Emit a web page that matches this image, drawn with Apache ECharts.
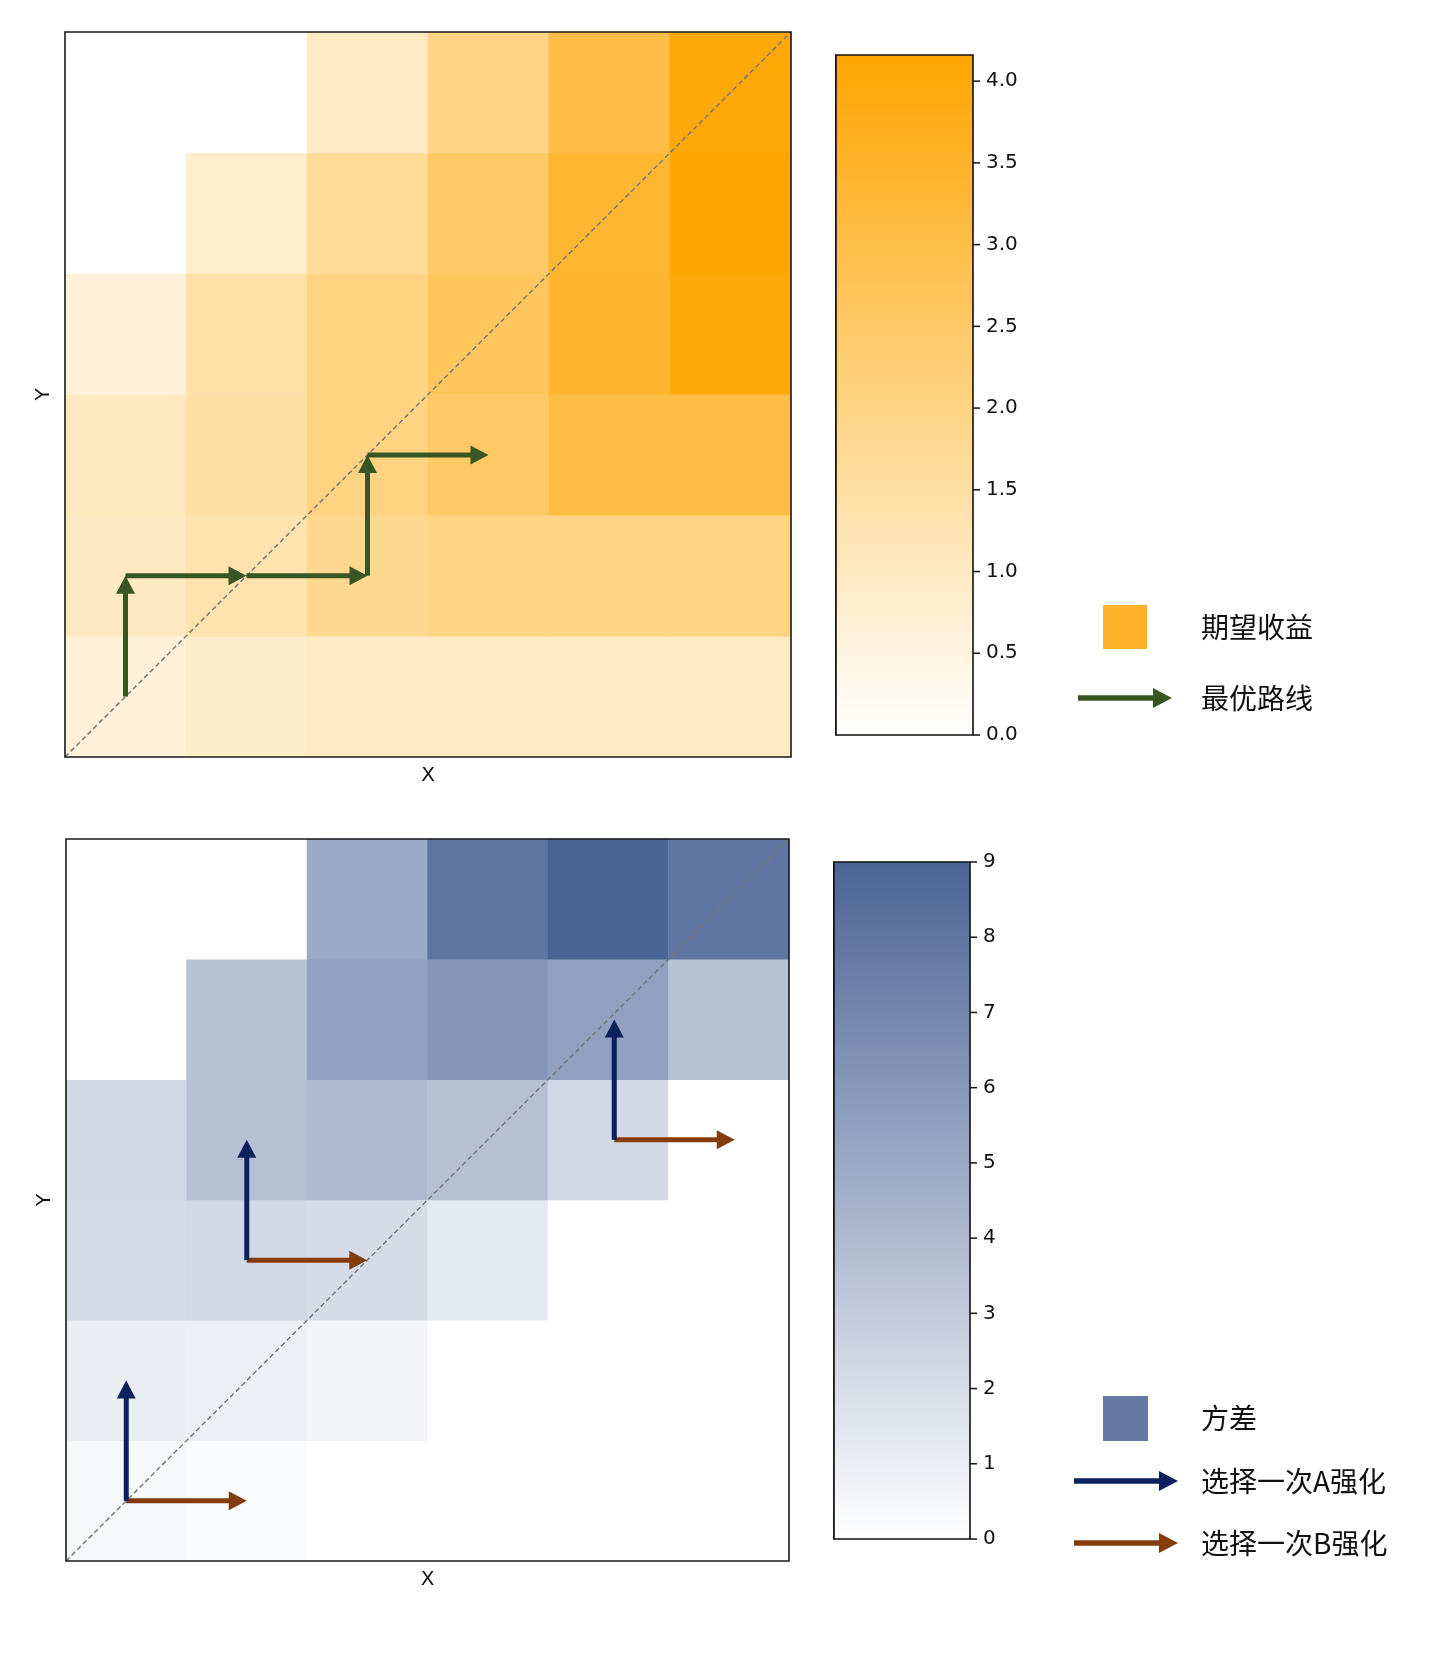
<!DOCTYPE html>
<html>
<head>
<meta charset="utf-8">
<script src="https://cdn.jsdelivr.net/npm/echarts@6/dist/echarts.min.js"></script>
<style>
html,body{margin:0;padding:0;background:#fff;}
#chart{width:1440px;height:1680px;}
</style>
</head>
<body>
<div id="chart"></div>
<script>
// ---------- data ----------
const xCats = ['0', '1', '2', '3', '4', '5'];
const yCats = ['0', '1', '2', '3', '4', '5'];

// expected return, rows from bottom (y=0) to top (y=5)
const returnRows = [
  [0.64, 0.86, 0.98, 0.98, 0.98, 0.98],
  [1.00, 1.34, 1.81, 1.99, 1.99, 1.99],
  [1.04, 1.47, 2.04, 2.51, 3.07, 3.07],
  [0.64, 1.42, 2.04, 2.63, 3.41, 4.00],
  [0.00, 0.80, 1.68, 2.51, 3.34, 4.16],
  [0.00, 0.00, 0.98, 1.99, 3.04, 4.04]
];
// variance, rows from bottom (y=0) to top (y=5)
const varianceRows = [
  [0.40, 0.25, 0.00, 0.00, 0.00, 0.00],
  [1.00, 0.95, 0.60, 0.00, 0.00, 0.00],
  [2.14, 2.24, 2.04, 1.29, 0.00, 0.00],
  [2.24, 3.63, 4.03, 3.63, 2.24, 0.00],
  [0.00, 3.53, 5.52, 6.12, 5.52, 3.53],
  [0.00, 0.00, 4.92, 7.96, 9.00, 7.96]
];
const returnMax = 4.16;
const varianceMax = 9;
const returnTicks = [0, 0.5, 1.0, 1.5, 2.0, 2.5, 3.0, 3.5, 4.0];
const varianceTicks = [0, 1, 2, 3, 4, 5, 6, 7, 8, 9];

// arrows: [x0, y0, x1, y1]
const optimalPath = [
  [0.5, 0.5, 0.5, 1.5],
  [0.5, 1.5, 1.5, 1.5],
  [1.5, 1.5, 2.5, 1.5],
  [2.5, 1.5, 2.5, 2.5],
  [2.5, 2.5, 3.5, 2.5]
];
const choiceA = [
  [0.5, 0.5, 0.5, 1.5],
  [1.5, 2.5, 1.5, 3.5],
  [4.55, 3.5, 4.55, 4.5]
];
const choiceB = [
  [0.5, 0.5, 1.5, 0.5],
  [1.5, 2.5, 2.5, 2.5],
  [4.55, 3.5, 5.55, 3.5]
];
const diagonal = [[0, 0], [6, 6]];

const legendTop = ['期望收益', '最优路线'];
const legendBottom = ['方差', '选择一次A强化', '选择一次B强化'];

// ---------- styles ----------
const ORANGE = '#ffa500';
const BLUE = '#4b6496';
const GREEN = '#375623';
const NAVY = '#0b215e';
const BROWN = '#843c0c';
const LATIN = 'DejaVu Sans';
const CJK = '"Noto Sans CJK SC", "Noto Sans", sans-serif';

function toCells(rows) {
  const out = [];
  rows.forEach((row, y) => row.forEach((v, x) => out.push([x, y, v])));
  return out;
}

function arrowRender(color) {
  return function (params, api) {
    const p0 = api.coord([api.value(0), api.value(1)]);
    const p1 = api.coord([api.value(2), api.value(3)]);
    const dx = p1[0] - p0[0], dy = p1[1] - p0[1];
    const L = Math.hypot(dx, dy) || 1;
    const ux = dx / L, uy = dy / L, nx = -uy, ny = ux;
    const HL = 18, HW = 9.5, SW = 5;
    const bx = p1[0] - ux * HL, by = p1[1] - uy * HL;
    return {
      type: 'group',
      children: [
        { type: 'line', shape: { x1: p0[0], y1: p0[1], x2: bx + ux, y2: by + uy },
          style: { stroke: color, lineWidth: SW, lineCap: 'butt' } },
        { type: 'polygon', shape: { points: [[p1[0], p1[1]], [bx + nx * HW, by + ny * HW], [bx - nx * HW, by - ny * HW]] },
          style: { fill: color } }
      ]
    };
  };
}

// colorbar: gradient rect + outward tick marks at the tick values (positions via the axis scale)
function colorbarRender(topColor, ticks) {
  return function (params, api) {
    const a = api.coord([0, api.value(1)]);
    const b = api.coord([1, 0]);
    const children = [{
      type: 'rect',
      shape: { x: a[0], y: a[1], width: b[0] - a[0], height: b[1] - a[1] },
      style: {
        fill: { type: 'linear', x: 0, y: 0, x2: 0, y2: 1,
          colorStops: [{ offset: 0, color: topColor }, { offset: 1, color: '#ffffff' }] },
        stroke: '#111', lineWidth: 1.6
      }
    }];
    ticks.forEach(t => {
      const p = api.coord([1, t]);
      children.push({ type: 'line', shape: { x1: p[0], y1: p[1], x2: p[0] + 7, y2: p[1] },
        style: { stroke: '#111', lineWidth: 1.5 } });
    });
    return { type: 'group', children: children };
  };
}

const grids = [
  { left: 65, top: 32, width: 726, height: 725, show: true, borderColor: '#1a1a1a', borderWidth: 1.6, backgroundColor: 'transparent', z: 10 },
  { left: 836, top: 55, width: 137, height: 680 },
  { left: 66, top: 839, width: 723, height: 722, show: true, borderColor: '#1a1a1a', borderWidth: 1.6, backgroundColor: 'transparent', z: 10 },
  { left: 834, top: 862, width: 136, height: 677 }
];

function catX(grid) {
  return { type: 'category', gridIndex: grid, data: xCats, axisLine: { show: false }, axisTick: { show: false },
    axisLabel: { show: false }, splitLine: { show: false },
    name: 'X', nameLocation: 'middle', nameGap: 9,
    nameTextStyle: { fontFamily: LATIN, fontSize: 20, color: '#111', verticalAlign: 'top' } };
}
function catY(grid) {
  return { type: 'category', gridIndex: grid, data: yCats, axisLine: { show: false }, axisTick: { show: false },
    axisLabel: { show: false }, splitLine: { show: false },
    name: 'Y', nameLocation: 'middle', nameGap: 11, nameRotate: 90,
    nameTextStyle: { fontFamily: LATIN, fontSize: 20, color: '#111' } };
}
function hiddenVal(grid, min, max) {
  return { type: 'value', gridIndex: grid, min: min, max: max, show: false, splitLine: { show: false } };
}
function barAxis(grid, max, ticks, fmt) {
  return { type: 'value', gridIndex: grid, min: 0, max: max, position: 'right',
    axisLine: { show: true, lineStyle: { color: '#111', width: 1.6 } },
    axisTick: { show: false },
    axisLabel: { show: true, margin: 13, fontFamily: LATIN, fontSize: 20, color: '#111', customValues: ticks, formatter: fmt,
      padding: [7, 0, 0, 0] },
    splitLine: { show: false } };
}

const option = {
  backgroundColor: '#ffffff',
  animation: false,
  grid: grids,
  xAxis: [
    catX(0), hiddenVal(0, 0, 6), hiddenVal(1, 0, 1),
    catX(2), hiddenVal(2, 0, 6), hiddenVal(3, 0, 1)
  ],
  yAxis: [
    catY(0), hiddenVal(0, 0, 6), barAxis(1, returnMax, returnTicks, v => v.toFixed(1)),
    catY(2), hiddenVal(2, 0, 6), barAxis(3, varianceMax, varianceTicks, v => String(Math.round(v)))
  ],
  visualMap: [
    { type: 'continuous', show: false, seriesIndex: 0, dimension: 2, min: 0, max: returnMax,
      inRange: { color: ['#ffffff', ORANGE] } },
    { type: 'continuous', show: false, seriesIndex: 4, dimension: 2, min: 0, max: varianceMax,
      inRange: { color: ['#ffffff', BLUE] } }
  ],
  series: [
    // 0 top heatmap
    { type: 'heatmap', xAxisIndex: 0, yAxisIndex: 0, data: toCells(returnRows),
      itemStyle: { borderWidth: 0 }, emphasis: { disabled: true }, z: 1 },
    // 1 diagonal
    { type: 'line', xAxisIndex: 1, yAxisIndex: 1, data: diagonal, symbol: 'none', silent: true,
      lineStyle: { color: '#777777', width: 1.5, type: [5, 3] }, z: 3 },
    // 2 optimal path
    { type: 'custom', xAxisIndex: 1, yAxisIndex: 1, data: optimalPath, renderItem: arrowRender(GREEN),
      encode: { x: [0, 2], y: [1, 3] }, z: 5, silent: true },
    // 3 top colorbar
    { type: 'custom', xAxisIndex: 2, yAxisIndex: 2, data: [[0, returnMax]], renderItem: colorbarRender(ORANGE, returnTicks),
      encode: { x: 0, y: 1 }, silent: true },
    // 4 bottom heatmap
    { type: 'heatmap', xAxisIndex: 3, yAxisIndex: 3, data: toCells(varianceRows),
      itemStyle: { borderWidth: 0 }, emphasis: { disabled: true }, z: 1 },
    // 5 diagonal
    { type: 'line', xAxisIndex: 4, yAxisIndex: 4, data: diagonal, symbol: 'none', silent: true,
      lineStyle: { color: '#777777', width: 1.5, type: [5, 3] }, z: 3 },
    // 6 choice B
    { type: 'custom', xAxisIndex: 4, yAxisIndex: 4, data: choiceB, renderItem: arrowRender(BROWN),
      encode: { x: [0, 2], y: [1, 3] }, z: 5, silent: true },
    // 7 choice A
    { type: 'custom', xAxisIndex: 4, yAxisIndex: 4, data: choiceA, renderItem: arrowRender(NAVY),
      encode: { x: [0, 2], y: [1, 3] }, z: 6, silent: true },
    // 8 bottom colorbar
    { type: 'custom', xAxisIndex: 5, yAxisIndex: 5, data: [[0, varianceMax]], renderItem: colorbarRender(BLUE, varianceTicks),
      encode: { x: 0, y: 1 }, silent: true }
  ],
  graphic: []
};

// legend drawings
function legendArrow(x0, x1, y, color) {
  return [
    { type: 'line', shape: { x1: x0, y1: y, x2: x1 - 17, y2: y }, style: { stroke: color, lineWidth: 5.5 } },
    { type: 'polygon', shape: { points: [[x1, y], [x1 - 19, y - 10], [x1 - 19, y + 10]] }, style: { fill: color } }
  ];
}
function legendText(txt, y) {
  return { type: 'text', x: 1201, y: y, style: { text: txt, font: '28px ' + CJK, fill: '#111', verticalAlign: 'middle', textAlign: 'left' } };
}
option.graphic = [
  { type: 'rect', shape: { x: 1103, y: 605, width: 44, height: 44 }, style: { fill: '#fdb12b' } },
  legendText(legendTop[0], 627),
  ...legendArrow(1078, 1172, 698, GREEN),
  legendText(legendTop[1], 698),
  { type: 'rect', shape: { x: 1103, y: 1396, width: 45, height: 45 }, style: { fill: '#6479a6' } },
  legendText(legendBottom[0], 1418),
  ...legendArrow(1074, 1178, 1481, NAVY),
  legendText(legendBottom[1], 1481),
  ...legendArrow(1074, 1178, 1543, BROWN),
  legendText(legendBottom[2], 1543)
];

const chart = echarts.init(document.getElementById('chart'), null, { renderer: 'canvas', width: 1440, height: 1680 });
chart.setOption(option);
</script>
</body>
</html>
